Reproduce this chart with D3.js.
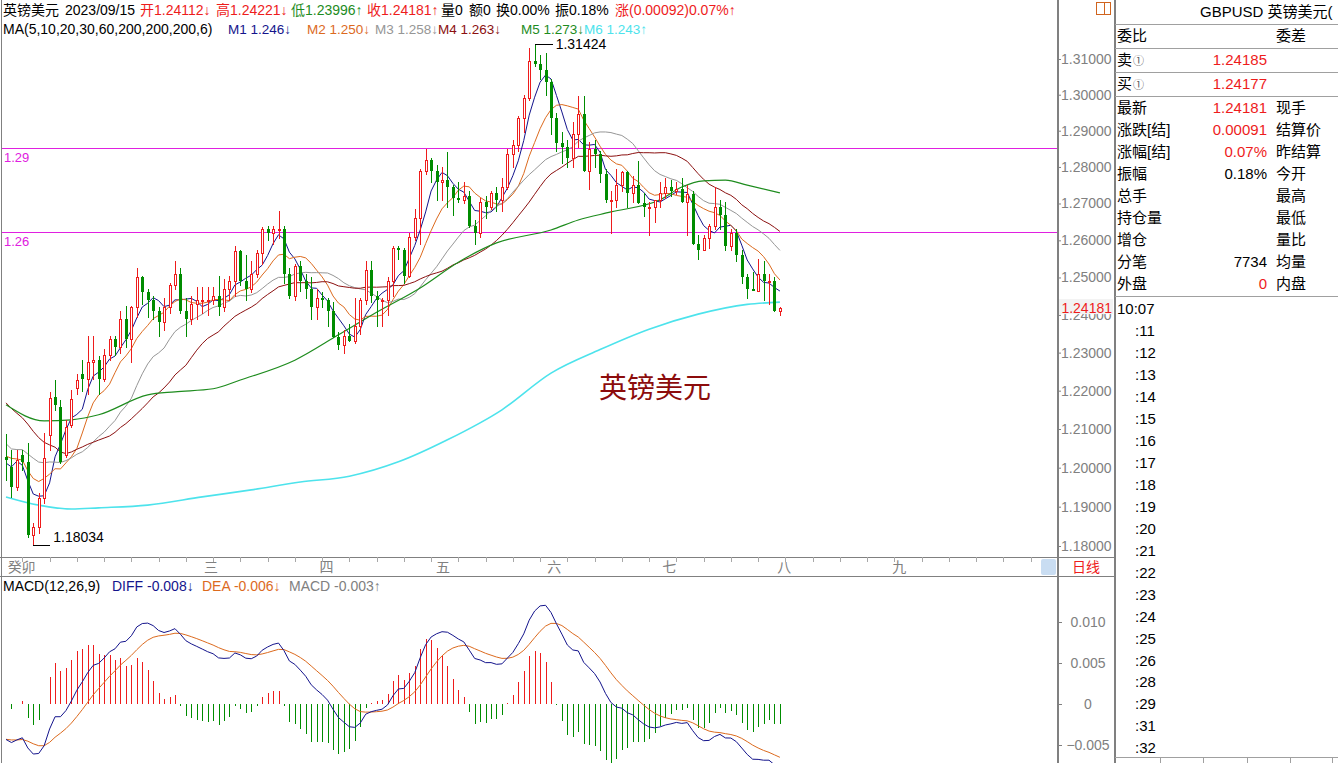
<!DOCTYPE html>
<html lang="zh">
<head>
<meta charset="UTF-8"/>
<title>GBPUSD 英镑美元 日线</title>
<script src="https://d3js.org/d3.v7.min.js"></script>
<style>
  body { margin: 0; background: #fff; }
  svg { display: block; font-family: "Liberation Sans", Arial, "Noto Sans CJK SC", sans-serif; }
</style>
</head>
<body>
<svg id="chart" width="1338" height="763"></svg>
<script>

// closes before the first visible candle (used by the moving averages)
var priorCloses = [1.2390, 1.2395, 1.2370, 1.2320, 1.2410, 1.2410, 1.2395, 1.2380, 1.2340, 1.2390,
    1.2225, 1.2053, 1.2020, 1.2050, 1.2070, 1.2120, 1.2060, 1.2140, 1.2175, 1.2030,
    1.2010, 1.2035, 1.2045, 1.2100, 1.2050, 1.2000, 1.1945, 1.2070, 1.2025];

var opens = [1.2028, 1.2002, 1.1950, 1.2033, 1.2015, 1.1828, 1.1849, 1.1922, 1.2085, 1.2183,
    1.2158, 1.2033, 1.2111, 1.2207, 1.2243, 1.2230, 1.2275, 1.2280, 1.2230, 1.2295,
    1.2335, 1.2315, 1.2390, 1.2335, 1.2420, 1.2500, 1.2460, 1.2440, 1.2410, 1.2380,
    1.2420, 1.2480, 1.2510, 1.2410, 1.2390, 1.2430, 1.2440, 1.2440, 1.2440, 1.2450,
    1.2420, 1.2470, 1.2490, 1.2570, 1.2490, 1.2470, 1.2510, 1.2565, 1.2630, 1.2620,
    1.2630, 1.2630, 1.2510, 1.2450, 1.2530, 1.2490, 1.2470, 1.2420, 1.2445, 1.2440,
    1.2410, 1.2340, 1.2320, 1.2345, 1.2330, 1.2370, 1.2440, 1.2520, 1.2450, 1.2440,
    1.2440, 1.2490, 1.2580, 1.2575, 1.2505, 1.2610, 1.2660, 1.2790, 1.2820, 1.2790,
    1.2760, 1.2765, 1.2745, 1.2715, 1.2710, 1.2720, 1.2640, 1.2620, 1.2705, 1.2690,
    1.2730, 1.2710, 1.2745, 1.2835, 1.2860, 1.2935, 1.2990, 1.3095, 1.3085, 1.3070,
    1.3035, 1.2935, 1.2865, 1.2855, 1.2825, 1.2890, 1.2945, 1.2790, 1.2850, 1.2835,
    1.2780, 1.2710, 1.2710, 1.2750, 1.2785, 1.2730, 1.2750, 1.2700, 1.2690, 1.2690,
    1.2710, 1.2730, 1.2745, 1.2735, 1.2740, 1.2705, 1.2725, 1.2590, 1.2575, 1.2605,
    1.2640, 1.2690, 1.2670, 1.2585, 1.2620, 1.2560, 1.2500, 1.2470, 1.2465, 1.2510,
    1.2490, 1.2490, 1.24112];
var highs = [1.2087, 1.2046, 1.2046, 1.2046, 1.2064, 1.1859, 1.1935, 1.2090, 1.2197, 1.2228,
    1.2176, 1.2124, 1.2202, 1.2245, 1.2280, 1.2345, 1.2343, 1.2290, 1.2310, 1.2345,
    1.2345, 1.2410, 1.2425, 1.2425, 1.2525, 1.2505, 1.2470, 1.2450, 1.2420, 1.2445,
    1.2485, 1.2545, 1.2525, 1.2445, 1.2450, 1.2475, 1.2475, 1.2475, 1.2475, 1.2505,
    1.2495, 1.2505, 1.2585, 1.2575, 1.2560, 1.2545, 1.2575, 1.2635, 1.2640, 1.2640,
    1.2680, 1.2640, 1.2525, 1.2535, 1.2545, 1.2510, 1.2500, 1.2470, 1.2460, 1.2445,
    1.2435, 1.2355, 1.2360, 1.2375, 1.2445, 1.2445, 1.2545, 1.2545, 1.2465, 1.2445,
    1.2500, 1.2585, 1.2585, 1.2580, 1.2620, 1.2685, 1.2795, 1.2850, 1.2825, 1.2805,
    1.2800, 1.2840, 1.2750, 1.2760, 1.2760, 1.2735, 1.2655, 1.2715, 1.2720, 1.2735,
    1.2745, 1.2770, 1.2850, 1.2875, 1.2940, 1.3000, 1.3130, 1.31424, 1.3110, 1.3118,
    1.3045, 1.2950, 1.2895, 1.2875, 1.2925, 1.2995, 1.2995, 1.2870, 1.2875, 1.2845,
    1.2795, 1.2735, 1.2795, 1.2790, 1.2790, 1.2775, 1.2815, 1.2730, 1.2705, 1.2710,
    1.2760, 1.2770, 1.2765, 1.2760, 1.2770, 1.2750, 1.2735, 1.2615, 1.2615, 1.2645,
    1.2745, 1.2710, 1.2705, 1.2630, 1.2630, 1.2575, 1.2510, 1.2515, 1.2550, 1.2545,
    1.2510, 1.2500, 1.24221];
var lows = [1.1968, 1.1925, 1.1943, 1.1994, 1.1823, 1.18034, 1.1833, 1.1910, 1.2046, 1.2150,
    1.2012, 1.2028, 1.2106, 1.2190, 1.2200, 1.2190, 1.2230, 1.2190, 1.2225, 1.2280,
    1.2295, 1.2300, 1.2315, 1.2275, 1.2395, 1.2430, 1.2395, 1.2390, 1.2345, 1.2360,
    1.2405, 1.2470, 1.2405, 1.2345, 1.2375, 1.2390, 1.2405, 1.2400, 1.2430, 1.2400,
    1.2410, 1.2440, 1.2450, 1.2480, 1.2440, 1.2460, 1.2500, 1.2535, 1.2600, 1.2590,
    1.2605, 1.2485, 1.2445, 1.2440, 1.2465, 1.2445, 1.2390, 1.2390, 1.2420, 1.2370,
    1.2340, 1.2310, 1.2300, 1.2330, 1.2325, 1.2350, 1.2430, 1.2435, 1.2370, 1.2370,
    1.2400, 1.2450, 1.2550, 1.2485, 1.2500, 1.2600, 1.2590, 1.2780, 1.2760, 1.2710,
    1.2710, 1.2690, 1.2670, 1.2705, 1.2700, 1.2635, 1.2590, 1.2610, 1.2660, 1.2685,
    1.2680, 1.2680, 1.2740, 1.2800, 1.2845, 1.2895, 1.2985, 1.3080, 1.3045, 1.3000,
    1.2890, 1.2845, 1.2810, 1.2800, 1.2800, 1.2855, 1.2790, 1.2740, 1.2800, 1.2760,
    1.2705, 1.2620, 1.2690, 1.2735, 1.2690, 1.2705, 1.2700, 1.2665, 1.2615, 1.2650,
    1.2690, 1.2715, 1.2720, 1.2725, 1.2705, 1.2615, 1.2590, 1.2550, 1.2575, 1.2580,
    1.2630, 1.2630, 1.2575, 1.2575, 1.2545, 1.2485, 1.2445, 1.2470, 1.2465, 1.2440,
    1.2430, 1.2410, 1.23996];
var closes = [1.2020, 1.1950, 1.2020, 1.2015, 1.1828, 1.1849, 1.1922, 1.2025, 1.2181, 1.2163,
    1.2015, 1.2106, 1.2178, 1.2228, 1.2230, 1.2275, 1.2280, 1.2230, 1.2295, 1.2335,
    1.2315, 1.2390, 1.2335, 1.2420, 1.2500, 1.2460, 1.2440, 1.2410, 1.2380, 1.2420,
    1.2480, 1.2510, 1.2410, 1.2390, 1.2430, 1.2440, 1.2440, 1.2440, 1.2450, 1.2420,
    1.2470, 1.2490, 1.2570, 1.2490, 1.2470, 1.2510, 1.2565, 1.2630, 1.2620, 1.2630,
    1.2630, 1.2510, 1.2450, 1.2530, 1.2490, 1.2470, 1.2420, 1.2445, 1.2440, 1.2410,
    1.2340, 1.2320, 1.2345, 1.2330, 1.2370, 1.2440, 1.2520, 1.2450, 1.2440, 1.2440,
    1.2490, 1.2580, 1.2575, 1.2505, 1.2610, 1.2660, 1.2790, 1.2820, 1.2790, 1.2760,
    1.2765, 1.2745, 1.2715, 1.2710, 1.2720, 1.2640, 1.2620, 1.2705, 1.2690, 1.2730,
    1.2710, 1.2745, 1.2835, 1.2860, 1.2935, 1.2990, 1.3095, 1.3085, 1.3070, 1.3035,
    1.2935, 1.2865, 1.2855, 1.2825, 1.2890, 1.2945, 1.2790, 1.2850, 1.2835, 1.2780,
    1.2710, 1.2710, 1.2750, 1.2785, 1.2730, 1.2750, 1.2700, 1.2690, 1.2690, 1.2710,
    1.2730, 1.2745, 1.2735, 1.2740, 1.2705, 1.2725, 1.2590, 1.2575, 1.2605, 1.2640,
    1.2690, 1.2670, 1.2585, 1.2620, 1.2560, 1.2500, 1.2470, 1.2465, 1.2510, 1.2490,
    1.2490, 1.2410, 1.24181];

// long moving averages (candle index, value)
var ma60Idx = [0, 7, 12, 17, 26, 31, 38, 43, 53, 61, 68, 76, 83, 90, 100, 105, 111, 120, 124, 128, 132, 136, 142];
var ma60Val = [1.2163, 1.2121, 1.2124, 1.2137, 1.2189, 1.2197, 1.2205, 1.2228, 1.2280, 1.2347, 1.2407, 1.2472,
    1.2541, 1.2593, 1.2628, 1.2655, 1.2677, 1.2710, 1.2745, 1.2762, 1.2764, 1.2750, 1.2729];
var ma200Idx = [0, 6, 12, 17, 26, 36, 45, 54, 63, 72, 81, 91, 100, 109, 118, 127, 136, 142];
var ma200Val = [1.1925, 1.1904, 1.1894, 1.1897, 1.1904, 1.1925, 1.1943, 1.1963, 1.1978, 1.2015, 1.2072, 1.2150,
    1.2246, 1.2308, 1.2362, 1.2402, 1.2428, 1.2434];

// MACD state before the first candle
var ema12Seed = 1.2040, ema26Seed = 1.2085, deaSeed = -0.0043;

var priceTicks = [1.18, 1.19, 1.20, 1.21, 1.22, 1.23, 1.24, 1.25, 1.26, 1.27, 1.28, 1.29, 1.30, 1.31];
var macdTicks = [0.010, 0.005, 0, -0.005];
var lineLevels = [1.2851, 1.2622];
var lineLabels = ["1.29", "1.26"];
var monthLabels = ["癸卯", "三", "四", "五", "六", "七", "八", "九"];
var monthIdx = [0.3, 37.6, 58.8, 80.2, 100.6, 121.7, 142.8, 163.9];
var timeLabels = ["10:07", ":11", ":12", ":13", ":14", ":15", ":16", ":17", ":18", ":19", ":20",
    ":21", ":22", ":23", ":24", ":25", ":26", ":28", ":29", ":31", ":32"];
var panelLeft = ["委比", "卖", "买", "最新", "涨跌[结]", "涨幅[结]", "振幅", "总手", "持仓量", "增仓", "分笔", "外盘"];
var panelValue = ["", "1.24185", "1.24177", "1.24181", "0.00091", "0.07%", "0.18%", "", "", "", "7734", "0"];
var panelRight = ["委差", "", "", "现手", "结算价", "昨结算", "今开", "最高", "最低", "量比", "均量", "内盘"];

var RED = "#ee1c1c", GREEN = "#008c00", GRAY = "#808080";
var maColors = ["#14148c", "#dc6a1e", "#969696", "#8b1010", "#1e8c1e", "#4de3ec"];

var svg = d3.select("#chart");

// scales
var x = d3.scaleLinear().domain([0, 190]).range([6, 6 + 190 * 5.45]);
var y = d3.scaleLog().domain([1.18, 1.31]).range([546, 59]);
var ym = d3.scaleLinear().domain([-0.005, 0.010]).range([745, 622]);

var defs = svg.append("defs");
defs.append("clipPath").attr("id", "clipMain").append("rect").attr("x", 2).attr("y", 0).attr("width", 1055).attr("height", 556);
defs.append("clipPath").attr("id", "clipMacd").append("rect").attr("x", 2).attr("y", 596).attr("width", 1055).attr("height", 167);

// frame lines
function hline(x1, x2, yy, c) {
    svg.append("line").attr("x1", x1).attr("x2", x2).attr("y1", yy).attr("y2", yy)
        .attr("stroke", c || GRAY).attr("stroke-width", 1).attr("shape-rendering", "crispEdges");
}
function vline(xx, y1, y2, c, w) {
    svg.append("line").attr("x1", xx).attr("x2", xx).attr("y1", y1).attr("y2", y2)
        .attr("stroke", c || GRAY).attr("stroke-width", w || 1).attr("shape-rendering", "crispEdges");
}
vline(1.5, 0, 763);
vline(1057.5, 0, 763, GRAY, 2);
vline(1115, 0, 763, GRAY, 2);
hline(0, 1115, 557.5);
hline(0, 1115, 576.5);
[24, 48, 72, 96, 296].forEach(function (yy) { hline(1115, 1338, yy + 0.5, "#a0a0a0"); });
hline(1115, 1338, 757.5, "#a0a0a0");
[1160, 1203, 1247, 1290, 1332].forEach(function (xx) { vline(xx + 0.5, 757, 763, "#a0a0a0"); });

// month row
var ticksRow = svg.append("g");
d3.range(3, 190, 5).forEach(function (i) {
    if (x(i) < 1040) vline(Math.round(x(i)) + 0.5, 557, 562, "#a8a8a8");
});
monthLabels.forEach(function (m, k) {
    ticksRow.append("text").attr("x", x(monthIdx[k])).attr("y", 572)
        .attr("text-anchor", k === 0 ? "start" : "middle")
        .attr("font-size", 14).attr("fill", GRAY).text(m);
});
svg.append("rect").attr("x", 1041).attr("y", 559).attr("width", 15).attr("height", 16).attr("rx", 2).attr("fill", "#c9ddf2");
svg.append("text").attr("x", 1072).attr("y", 572).attr("font-size", 14).attr("fill", RED).text("日线");

// price axis (the 1.24 label sits under the current price box, as in the terminal)
var yAxis = d3.axisRight(y).tickValues(priceTicks).tickFormat(d3.format(".5f")).tickSize(4).tickPadding(0);
var ga = svg.append("g").attr("transform", "translate(1057,0)").call(yAxis);
ga.select(".domain").remove();
ga.selectAll("line").attr("stroke", GRAY);
ga.selectAll("text").attr("font-size", 14).attr("fill", GRAY).attr("font-family", "Liberation Sans, Arial, sans-serif");

// current price label
var last = closes[closes.length - 1];
svg.append("rect").attr("x", 1059).attr("y", y(last) - 9).attr("width", 54).attr("height", 15).attr("fill", "#f2f2f2");
svg.append("text").attr("x", 1112).attr("y", y(last) + 5).attr("text-anchor", "end").attr("font-size", 14).attr("fill", RED).text(last.toFixed(5));

// horizontal drawn lines
lineLevels.forEach(function (lv, k) {
    hline(2, 1057, Math.round(y(lv)) + 0.5, "#e020e0");
    svg.append("text").attr("x", 4).attr("y", y(lv) + 14).attr("font-size", 13).attr("fill", "#e020e0").text(lineLabels[k]);
});

// moving averages
var allCloses = priorCloses.concat(closes);
function sma(n) {
    return closes.map(function (c, i) {
        var j = i + priorCloses.length;
        return d3.mean(allCloses.slice(j - n + 1, j + 1));
    });
}
var main = svg.append("g").attr("clip-path", "url(#clipMain)");
var lineIdx = d3.line().x(function (d, i) { return x(i); }).y(function (d) { return y(d); });
[5, 10, 20, 30].forEach(function (n, k) {
    main.append("path").attr("d", lineIdx(sma(n))).attr("fill", "none").attr("stroke", maColors[k]).attr("stroke-width", 1);
});
var linePts = d3.line().x(function (d) { return x(d[0]); }).y(function (d) { return y(d[1]); }).curve(d3.curveMonotoneX);
main.append("path").attr("d", linePts(d3.zip(ma60Idx, ma60Val))).attr("fill", "none").attr("stroke", maColors[4]).attr("stroke-width", 1.2);
main.append("path").attr("d", linePts(d3.zip(ma200Idx, ma200Val))).attr("fill", "none").attr("stroke", maColors[5]).attr("stroke-width", 1.6);

// candles
var candles = main.selectAll("g.candle").data(d3.range(closes.length)).enter().append("g").attr("class", "candle")
    .attr("shape-rendering", "crispEdges");
candles.each(function (i) {
    var g = d3.select(this);
    var cx = Math.round(x(i));
    var up = closes[i] >= opens[i];
    var col = up ? RED : GREEN;
    g.append("line").attr("x1", cx + 0.5).attr("x2", cx + 0.5)
        .attr("y1", Math.round(y(highs[i]))).attr("y2", Math.round(y(lows[i])) + 1)
        .attr("stroke", col);
    var top = Math.round(y(Math.max(opens[i], closes[i])));
    var bot = Math.round(y(Math.min(opens[i], closes[i])));
    if (up) {
        g.append("rect").attr("x", cx - 0.5).attr("y", top + 0.5).attr("width", 2).attr("height", Math.max(bot - top, 1))
            .attr("fill", "#fff").attr("stroke", col).attr("stroke-width", 1);
    } else {
        g.append("rect").attr("x", cx - 1).attr("y", top).attr("width", 3).attr("height", Math.max(bot - top, 1)).attr("fill", col);
    }
});

// high / low markers
var hiI = d3.maxIndex(highs), loI = d3.minIndex(lows);
hline(Math.round(x(hiI)), Math.round(x(hiI)) + 18, Math.round(y(highs[hiI])) + 0.5, "#000");
svg.append("text").attr("x", x(hiI) + 21).attr("y", y(highs[hiI]) + 5).attr("font-size", 14).text(highs[hiI].toFixed(5));
hline(Math.round(x(loI)), Math.round(x(loI)) + 17, Math.round(y(lows[loI])) + 0.5, "#000");
svg.append("text").attr("x", x(loI) + 20).attr("y", y(lows[loI]) - 3).attr("font-size", 14).text(lows[loI].toFixed(5));

// big name label
svg.append("text").attr("x", 655).attr("y", 398).attr("text-anchor", "middle").attr("font-size", 28)
    .attr("font-family", "Noto Sans CJK SC, sans-serif").attr("fill", "#8c0c0c").text("英镑美元");

// header lines
var head1 = [["英镑美元", 3, "#000"], ["2023/09/15", 65, "#000"], ["开1.24112↓", 140, RED], ["高1.24221↓", 216, RED],
    ["低1.23996↑", 291, "#1e8c1e"], ["收1.24181↑", 367, RED], ["量0", 441, "#000"], ["额0", 469, "#000"],
    ["换0.00%", 496, "#000"], ["振0.18%", 555, "#000"], ["涨(0.00092)0.07%↑", 615, RED]];
head1.forEach(function (h) {
    svg.append("text").attr("x", h[1]).attr("y", 15).attr("font-size", 14).attr("fill", h[2]).text(h[0]);
});
var head2 = [["MA(5,10,20,30,60,200,200,200,6)", 3, "#000", 14], ["M1 1.246↓", 228, maColors[0], 13.5],
    ["M2 1.250↓", 307, maColors[1], 13.5], ["M3 1.258↓", 375, maColors[2], 13.5], ["M4 1.263↓", 438, maColors[3], 13.5],
    ["M5 1.273↓", 521, maColors[4], 13.5], ["M6 1.243↑", 584, maColors[5], 13.5]];
head2.forEach(function (h) {
    svg.append("text").attr("x", h[1]).attr("y", 34).attr("font-size", h[3]).attr("fill", h[2]).text(h[0]);
});

// MACD
var e12 = ema12Seed, e26 = ema26Seed, dea = deaSeed;
var diffArr = [], deaArr = [], histArr = [];
closes.forEach(function (c) {
    e12 = e12 * 11 / 13 + c * 2 / 13;
    e26 = e26 * 25 / 27 + c * 2 / 27;
    var d = e12 - e26;
    dea = dea * 0.8 + d * 0.2;
    diffArr.push(d); deaArr.push(dea); histArr.push(2 * (d - dea));
});
var mg = svg.append("g").attr("clip-path", "url(#clipMacd)");
mg.selectAll("line.h").data(histArr).enter().append("line").attr("class", "h")
    .attr("x1", function (d, i) { return Math.round(x(i)) + 0.5; })
    .attr("x2", function (d, i) { return Math.round(x(i)) + 0.5; })
    .attr("y1", ym(0)).attr("y2", function (d) { return ym(d); })
    .attr("stroke", function (d) { return d >= 0 ? RED : GREEN; }).attr("shape-rendering", "crispEdges");
var lineM = d3.line().x(function (d, i) { return x(i); }).y(function (d) { return ym(d); });
mg.append("path").attr("d", lineM(deaArr)).attr("fill", "none").attr("stroke", maColors[1]).attr("stroke-width", 1);
mg.append("path").attr("d", lineM(diffArr)).attr("fill", "none").attr("stroke", maColors[0]).attr("stroke-width", 1);

macdTicks.forEach(function (t) {
    hline(1057, 1062, Math.round(ym(t)) + 0.5);
    svg.append("text").attr("x", 1088).attr("y", ym(t) + 5).attr("text-anchor", "middle").attr("font-size", 14).attr("fill", GRAY)
        .text(t === 0 ? "0" : d3.format(".3f")(t));
});
var head3 = [["MACD(12,26,9)", 3, "#000"], ["DIFF -0.008↓", 112, maColors[0]], ["DEA -0.006↓", 202, maColors[1]], ["MACD -0.003↑", 289, GRAY]];
head3.forEach(function (h) {
    svg.append("text").attr("x", h[1]).attr("y", 591).attr("font-size", 14).attr("fill", h[2]).text(h[0]);
});

// right info panel
svg.append("rect").attr("x", 1096.5).attr("y", 2.5).attr("width", 14).attr("height", 12).attr("fill", "none").attr("stroke", "#d0641e");
vline(1104.5, 3, 14, "#d0641e");
svg.append("text").attr("x", 1200).attr("y", 17).attr("font-size", 15).text("GBPUSD 英镑美元(");
var rowY = [35, 59, 83, 107, 129, 151, 173, 195, 217, 239, 261, 283];
panelLeft.forEach(function (t, k) {
    var tx = svg.append("text").attr("x", 1117).attr("y", rowY[k] + 6).attr("font-size", 15).text(t);
    if (k === 1 || k === 2) tx.append("tspan").attr("font-size", 11).attr("fill", "#555").attr("dx", 1).text("①");
    svg.append("text").attr("x", 1267).attr("y", rowY[k] + 6).attr("text-anchor", "end").attr("font-size", 15)
        .attr("fill", (k === 6 || k === 10) ? "#000" : RED).text(panelValue[k]);
    svg.append("text").attr("x", 1276).attr("y", rowY[k] + 6).attr("font-size", 15).text(panelRight[k]);
});
timeLabels.forEach(function (t, k) {
    svg.append("text").attr("x", k === 0 ? 1117 : 1135).attr("y", 308 + k * 21.97 + 6).attr("font-size", 15).text(t);
});

</script>
</body>
</html>
